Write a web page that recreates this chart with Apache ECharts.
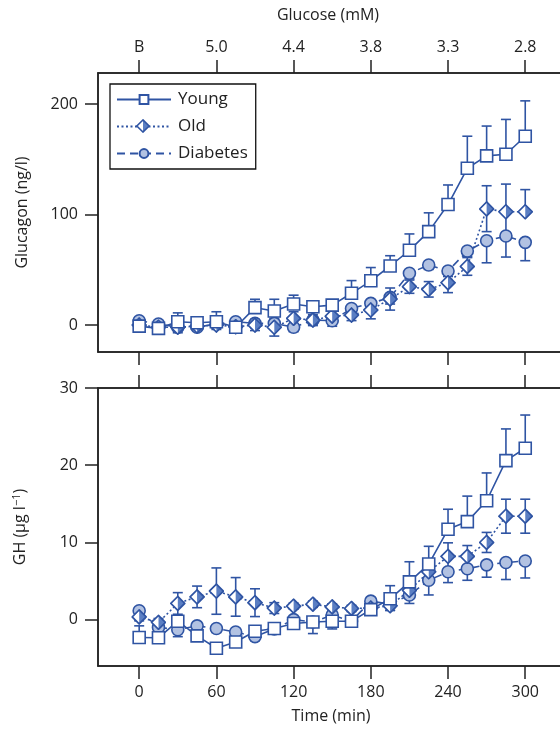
<!DOCTYPE html>
<html>
<head>
<meta charset="utf-8">
<title>Glucagon and GH during hypoglycaemic clamp</title>
<script src="https://cdn.jsdelivr.net/npm/echarts@6/dist/echarts.min.js"></script>
<style>
  html, body { margin: 0; padding: 0; background: #fff; }
  #chart { width: 560px; height: 731px; }
</style>
</head>
<body>
<div id="chart"></div>
<script>
// Sampling times (min)
const time = [0, 15, 30, 45, 60, 75, 90, 105, 120, 135, 150, 165, 180, 195, 210, 225, 240, 255, 270, 285, 300];

// Glucose steps shown on the top axis
const glucoseTicks = [0, 60, 120, 180, 240, 300];
const glucoseLabels = ['B', '5.0', '4.4', '3.8', '3.3', '2.8'];
const timeTicks = [0, 60, 120, 180, 240, 300];
const glucagonTicks = [0, 100, 200];
const ghTicks = [0, 10, 20, 30];

// Glucagon (ng/l)
const glucagonYoung = [-1, -3, 3, 2, 3, -2, 15.7, 12.7, 19, 16.6, 18, 28.7, 40, 53.4, 67.6, 84.5, 109, 141.8, 153, 154.5, 170.8];
const glucagonYoungUp = [4, 0, 8, 0, 9, 0, 7.6, 10.6, 8, 3, 3, 11.5, 12, 9.3, 14.8, 17, 17.7, 29, 27, 31.5, 32];
const glucagonYoungDown = [0, 0, 0, 0, 0, 0, 0, 0, 0, 0, 0, 0, 0, 0, 0, 0, 0, 0, 0, 0, 0];

const glucagonOld = [0, -2, -2, -1, 0, -1.5, 0, -2, 6, 4.5, 8, 9, 13.6, 23.5, 34.7, 32.3, 38.3, 53, 105, 102.5, 102.5];
const glucagonOldUp = [3, 2, 5, 3, 4, 4, 5, 8, 6, 5, 5, 5, 8, 10, 6, 7, 9, 8, 21, 25, 20];
const glucagonOldDown = [3, 2, 5, 3, 4, 4, 5, 8, 6, 5, 5, 5, 8, 10, 6, 7, 9, 8, 20.5, 22, 0];

const glucagonDiabetes = [3.9, 0.9, -2, -2, 1, 3, 1.5, 1.5, -2, 4.5, 3.9, 15, 19.6, 25, 46.8, 54.3, 48.9, 67, 76.3, 80.5, 74.8];
const glucagonDiabetesUp = [0, 0, 0, 0, 0, 0, 0, 0, 0, 0, 0, 0, 0, 0, 0, 0, 0, 0, 0, 0, 0];
const glucagonDiabetesDown = [3, 2, 3, 2, 3, 3, 4, 5, 4, 4, 5, 4, 5, 6, 5, 4, 5, 5, 20, 19, 16.6];

// GH (µg/l)
const ghYoung = [-2.3, -2.35, -0.2, -2.1, -3.7, -2.9, -1.5, -1.15, -0.5, -0.3, -0.2, -0.2, 1.3, 2.7, 4.9, 7.2, 11.7, 12.7, 15.4, 20.6, 22.2];
const ghYoungUp = [1.5, 0, 0, 0, 0, 0, 0, 0, 0, 0, 0, 0, 0, 1.7, 2.6, 2.3, 2.6, 3.3, 3.6, 4.1, 4.3];
const ghYoungDown = [0, 0, 0, 0, 0, 0, 0, 0, 0, 0, 0, 0, 0, 0, 0, 0, 0, 0, 0, 0, 0];

const ghOld = [0.35, -0.35, 2.1, 2.95, 3.7, 2.95, 2.2, 1.5, 1.75, 2.0, 1.65, 1.45, 1.5, 1.8, 3.8, 6.2, 8.2, 8.2, 10.0, 13.4, 13.4];
const ghOldErr = [0.5, 0.5, 1.4, 1.4, 3.0, 2.5, 1.8, 0.7, 0.4, 0.4, 0.4, 0.4, 0.5, 0.6, 0.8, 0.8, 1.75, 1.4, 1.3, 2.2, 2.2];

const ghDiabetes = [1.15, -1.0, -1.3, -0.8, -1.15, -1.6, -2.2, -1.2, 0.0, -0.3, 0.6, -0.2, 2.4, 2.0, 3.2, 5.1, 6.2, 6.6, 7.1, 7.4, 7.6];
const ghDiabetesDown = [0, 0.5, 0.9, 0.5, 0.5, 0.5, 0.5, 0.5, 0.5, 1.5, 1.8, 0.5, 0.5, 0.8, 1.1, 1.9, 1.4, 1.5, 1.6, 2.2, 2.2];
const zeros = time.map(() => 0);

// Styling
const BLUE = '#2f54a3';
const CIRCLE_FILL = '#b2c2e2';
const DIAMOND_FILL = '#5a7ec3';
const TEXT = '#222';
const FONT = '"Open Sans", "Noto Sans", sans-serif';

// Half-filled diamond marker (left white, right blue)
const diamondSvg =
  "<svg xmlns='http://www.w3.org/2000/svg' width='32' height='32' viewBox='0 0 32 32'>" +
  "<polygon points='16,2 30,16 16,30 2,16' fill='#ffffff'/>" +
  "<polygon points='16,2 30,16 16,30' fill='" + DIAMOND_FILL + "'/>" +
  "<polygon points='16,2 30,16 16,30 2,16' fill='none' stroke='" + BLUE + "' stroke-width='3.4' stroke-linejoin='miter'/>" +
  "</svg>";
const diamondUrl = 'data:image/svg+xml;charset=utf-8,' + encodeURIComponent(diamondSvg);
const diamondSymbol = 'image://' + diamondUrl;

function pairs(values) {
  return time.map((t, i) => [t, values[i]]);
}

function errorData(values, up, down) {
  return time.map((t, i) => [t, values[i], values[i] - down[i], values[i] + up[i]]);
}

function renderError(params, api) {
  const x = api.value(0);
  const v = api.value(1);
  const lo = api.value(2);
  const hi = api.value(3);
  const pLo = api.coord([x, lo]);
  const pHi = api.coord([x, hi]);
  const cap = 5;
  const style = { stroke: BLUE, lineWidth: 1.6, fill: null };
  const children = [];
  if (hi !== lo) {
    children.push({ type: 'line', shape: { x1: pLo[0], y1: pLo[1], x2: pHi[0], y2: pHi[1] }, style: style });
  }
  if (hi > v) {
    children.push({ type: 'line', shape: { x1: pHi[0] - cap, y1: pHi[1], x2: pHi[0] + cap, y2: pHi[1] }, style: style });
  }
  if (lo < v) {
    children.push({ type: 'line', shape: { x1: pLo[0] - cap, y1: pLo[1], x2: pLo[0] + cap, y2: pLo[1] }, style: style });
  }
  return { type: 'group', children: children };
}

function errorSeries(xi, yi, data) {
  return {
    type: 'custom',
    xAxisIndex: xi,
    yAxisIndex: yi,
    renderItem: renderError,
    data: data,
    encode: { x: 0, y: [1, 2, 3] },
    z: 1,
    silent: true
  };
}

const styles = {
  Young: {
    symbol: 'rect', symbolSize: 12,
    itemStyle: { color: '#ffffff', borderColor: BLUE, borderWidth: 1.6 },
    lineStyle: { color: BLUE, width: 1.6, type: 'solid' }
  },
  Old: {
    symbol: diamondSymbol, symbolSize: 16,
    itemStyle: { color: BLUE },
    lineStyle: { color: BLUE, width: 1.6, type: [2, 2.5] }
  },
  Diabetes: {
    symbol: 'circle', symbolSize: 12,
    itemStyle: { color: CIRCLE_FILL, borderColor: BLUE, borderWidth: 1.6 },
    lineStyle: { color: BLUE, width: 1.6, type: [8, 5] }
  }
};

function lineSeries(name, xi, yi, values) {
  const s = styles[name];
  return {
    name: name,
    type: 'line',
    xAxisIndex: xi,
    yAxisIndex: yi,
    data: pairs(values),
    symbol: s.symbol,
    symbolSize: s.symbolSize,
    showAllSymbol: true,
    itemStyle: s.itemStyle,
    lineStyle: s.lineStyle,
    z: 3,
    animation: false
  };
}

const tickStyle = { show: true, length: 13, inside: false, lineStyle: { color: TEXT, width: 1.5 } };
const labelStyle = { color: TEXT, fontSize: 16, fontFamily: FONT };
const axisLineStyle = { show: true, onZero: false, lineStyle: { color: TEXT, width: 1.5 } };

function timeAxis(gridIndex, position, opts) {
  return Object.assign({
    type: 'value',
    gridIndex: gridIndex,
    position: position,
    min: -32,
    max: 341,
    axisLine: axisLineStyle,
    axisTick: Object.assign({ customValues: timeTicks }, tickStyle),
    axisLabel: { show: false },
    splitLine: { show: false }
  }, opts || {});
}

const option = {
  backgroundColor: '#ffffff',
  animation: false,
  textStyle: { fontFamily: FONT },
  grid: [
    { left: 98, top: 73, width: 480, height: 279, outerBoundsMode: 'none', containLabel: false, show: true, borderColor: TEXT, borderWidth: 1.5, backgroundColor: 'transparent' },
    { left: 98, top: 388, width: 480, height: 278, outerBoundsMode: 'none', containLabel: false, show: true, borderColor: TEXT, borderWidth: 1.5, backgroundColor: 'transparent' }
  ],
  legend: {
    orient: 'vertical',
    left: 110,
    top: 84,
    data: ['Young', 'Old', 'Diabetes'],
    itemWidth: 54,
    itemHeight: 11,
    itemGap: 10,
    padding: [7, 8, 7, 6],
    borderColor: '#111',
    borderWidth: 1.3,
    backgroundColor: '#fff',
    textStyle: { color: TEXT, fontSize: 17, fontFamily: FONT, padding: [0, 0, 0, 2] },
    selectedMode: false,
    z: 4
  },
  // Full-size half-filled diamond over the legend's "Old" key
  graphic: [{
    type: 'image',
    z: 100,
    zlevel: 0,
    silent: true,
    style: { image: diamondUrl, x: 136, y: 119, width: 14, height: 14 }
  }],
  xAxis: [
    timeAxis(0, 'bottom'),
    timeAxis(0, 'top', {
      axisTick: Object.assign({ customValues: glucoseTicks }, tickStyle),
      axisLabel: Object.assign({
        show: true,
        margin: 18,
        customValues: glucoseTicks,
        formatter: function (v) {
          const i = glucoseTicks.indexOf(v);
          return i >= 0 ? glucoseLabels[i] : '';
        }
      }, labelStyle),
      name: 'Glucose (mM)',
      nameLocation: 'middle',
      nameGap: 50,
      nameMoveOverlap: false,
      nameTextStyle: { color: TEXT, fontSize: 16, fontFamily: FONT, padding: [0, 20, 0, 0] }
    }),
    timeAxis(1, 'top'),
    timeAxis(1, 'bottom', {
      axisLabel: Object.assign({ show: true, margin: 18, customValues: timeTicks }, labelStyle),
      name: 'Time (min)',
      nameLocation: 'middle',
      nameGap: 42,
      nameMoveOverlap: false,
      nameTextStyle: { color: TEXT, fontSize: 16, fontFamily: FONT, padding: [0, 14, 0, 0] }
    })
  ],
  yAxis: [
    {
      type: 'value',
      gridIndex: 0,
      min: -24.4,
      max: 228,
      axisLine: axisLineStyle,
      axisTick: Object.assign({ customValues: glucagonTicks }, tickStyle),
      axisLabel: Object.assign({ margin: 20, customValues: glucagonTicks }, labelStyle),
      splitLine: { show: false },
      name: 'Glucagon (ng/l)',
      nameLocation: 'middle',
      nameGap: 68,
      nameMoveOverlap: false,
      nameTextStyle: { color: TEXT, fontSize: 16, fontFamily: FONT }
    },
    {
      type: 'value',
      gridIndex: 1,
      min: -6,
      max: 30,
      axisLine: axisLineStyle,
      axisTick: Object.assign({ customValues: ghTicks }, tickStyle),
      axisLabel: Object.assign({ margin: 20, customValues: ghTicks }, labelStyle),
      splitLine: { show: false },
      name: 'GH (µg l{sup|−1})',
      nameLocation: 'middle',
      nameGap: 68,
      nameMoveOverlap: false,
      nameTextStyle: {
        color: TEXT, fontSize: 16, fontFamily: FONT,
        rich: { sup: { fontSize: 11, verticalAlign: 'top', padding: [0, 0, 8, 0], color: TEXT, fontFamily: FONT } }
      }
    }
  ],
  series: [
    // Glucagon panel
    errorSeries(0, 0, errorData(glucagonDiabetes, glucagonDiabetesUp, glucagonDiabetesDown)),
    errorSeries(0, 0, errorData(glucagonOld, glucagonOldUp, glucagonOldDown)),
    errorSeries(0, 0, errorData(glucagonYoung, glucagonYoungUp, glucagonYoungDown)),
    lineSeries('Diabetes', 0, 0, glucagonDiabetes),
    lineSeries('Old', 0, 0, glucagonOld),
    lineSeries('Young', 0, 0, glucagonYoung),
    // GH panel
    errorSeries(3, 1, errorData(ghDiabetes, zeros, ghDiabetesDown)),
    errorSeries(3, 1, errorData(ghOld, ghOldErr, ghOldErr)),
    errorSeries(3, 1, errorData(ghYoung, ghYoungUp, ghYoungDown)),
    lineSeries('Diabetes', 3, 1, ghDiabetes),
    lineSeries('Old', 3, 1, ghOld),
    lineSeries('Young', 3, 1, ghYoung)
  ]
};

const chart = echarts.init(document.getElementById('chart'), null, { renderer: 'canvas' });
chart.setOption(option);
</script>
</body>
</html>
